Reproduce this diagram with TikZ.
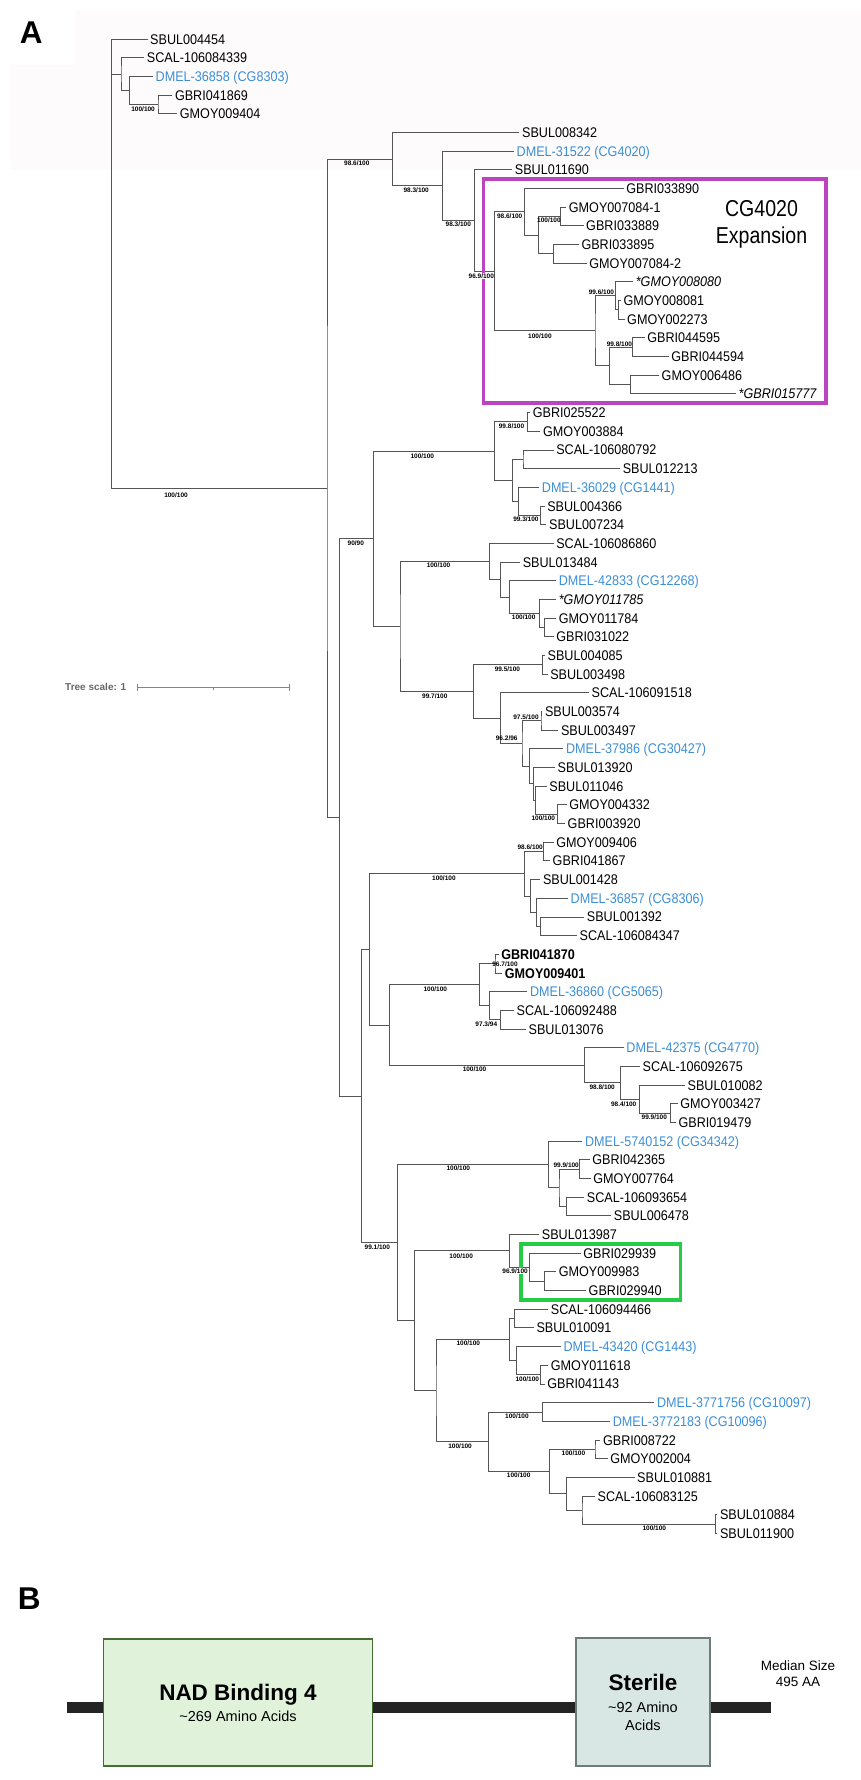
\documentclass[tikz,border=0pt]{standalone}
\usepackage{fontspec}
\setmainfont{Liberation Sans}
\newfontfamily\leaffont[FakeStretch=0.9]{Liberation Sans}
\newfontfamily\narrowfont[FakeStretch=0.85]{Liberation Sans}
\usepackage{tikz}
\definecolor{treeblue}{HTML}{3C8ED5}
\definecolor{treegray}{HTML}{555555}
\definecolor{scalegray}{HTML}{666666}
\definecolor{clademagenta}{HTML}{BD44C0}
\definecolor{cladegreen}{HTML}{25CC45}
\definecolor{nadfill}{HTML}{E0F2DA}
\definecolor{nadedge}{HTML}{466E32}
\definecolor{sterfill}{HTML}{D9E7E4}
\definecolor{steredge}{HTML}{6E7B7A}
\definecolor{barblack}{HTML}{242424}
\definecolor{faintbg}{HTML}{FDFBFB}
\tikzset{
  leaf/.style={anchor=west,inner xsep=2.5pt,inner ysep=0pt,text height=10pt,text depth=0pt,font=\leaffont\fontsize{14}{14}\selectfont,text=black},
  dmel/.style={leaf,text=treeblue},
  leafit/.style={leaf,font=\leaffont\itshape\fontsize{14}{14}\selectfont},
  leafbf/.style={leaf,font=\leaffont\bfseries\fontsize{14}{14}\selectfont},
  branch/.style={draw=treegray,line width=0.9pt},
  support/.style={inner sep=0.3pt,font=\bfseries\fontsize{6.5}{6.5}\selectfont},
  supportbg/.style={support,fill=white},
  cladebox/.style={line width=3.3pt},
  scalebar/.style={draw=scalegray!80,line width=0.9pt},
  panel/.style={anchor=base,inner sep=0pt,font=\bfseries\fontsize{31.5}{31.5}\selectfont},
  domtitle/.style={anchor=base,inner sep=0pt,font=\bfseries\fontsize{22.5}{22.5}\selectfont},
  domsub/.style={anchor=base,inner sep=0pt,font=\fontsize{14.5}{14.5}\selectfont},
  nadbox/.style={draw=nadedge,fill=nadfill,line width=1.2pt,minimum width=269pt,minimum height=127pt,inner sep=0pt},
  sterbox/.style={draw=steredge,fill=sterfill,line width=1.2pt,minimum width=134pt,minimum height=128pt,inner sep=0pt}
}

\begin{document}
\begin{tikzpicture}[x=1pt,y=-1pt]
\useasboundingbox (0,0) rectangle (861,1780);
\fill[faintbg] (75,10) rectangle (861,170);
\fill[faintbg] (10,65) rectangle (75,170);

\begin{scope}[y=-18.68pt,yshift=-20.32pt]
\node[leaf] (sbul004454) at (147.5,1) {SBUL004454};
\node[leaf] (scal84339) at (144.2,2) {SCAL-106084339};
\node[dmel] (dmel36858) at (153,3) {DMEL-36858 (CG8303)};
\node[leaf] (gbri041869) at (172.3,4) {GBRI041869};
\node[leaf] (gmoy009404) at (177.2,5) {GMOY009404};
\node[leaf] (sbul008342) at (519.4,6) {SBUL008342};
\node[dmel] (dmel31522) at (514,7) {DMEL-31522 (CG4020)};
\node[leaf] (sbul011690) at (512.2,8) {SBUL011690};
\node[leaf] (gbri033890) at (623.7,9) {GBRI033890};
\node[leaf] (gmoy7084a) at (566.2,10) {GMOY007084-1};
\node[leaf] (gbri033889) at (583.5,11) {GBRI033889};
\node[leaf] (gbri033895) at (578.8,12) {GBRI033895};
\node[leaf] (gmoy7084b) at (586.7,13) {GMOY007084-2};
\node[leafit] (gmoy008080) at (633.1,14) {*GMOY008080};
\node[leaf] (gmoy008081) at (620.9,15) {GMOY008081};
\node[leaf] (gmoy002273) at (624.5,16) {GMOY002273};
\node[leaf] (gbri044595) at (644.6,17) {GBRI044595};
\node[leaf] (gbri044594) at (668.7,18) {GBRI044594};
\node[leaf] (gmoy006486) at (659,19) {GMOY006486};
\node[leafit] (gbri015777) at (736,20) {*GBRI015777};
\node[leaf] (gbri025522) at (530.2,21) {GBRI025522};
\node[leaf] (gmoy003884) at (540.3,22) {GMOY003884};
\node[leaf] (scal80792) at (553.6,23) {SCAL-106080792};
\node[leaf] (sbul012213) at (620.1,24) {SBUL012213};
\node[dmel] (dmel36029) at (539.2,25) {DMEL-36029 (CG1441)};
\node[leaf] (sbul004366) at (544.6,26) {SBUL004366};
\node[leaf] (sbul007234) at (546.4,27) {SBUL007234};
\node[leaf] (scal86860) at (553.6,28) {SCAL-106086860};
\node[leaf] (sbul013484) at (520.1,29) {SBUL013484};
\node[dmel] (dmel42833) at (556.1,30) {DMEL-42833 (CG12268)};
\node[leafit] (gmoy011785) at (556.1,31) {*GMOY011785};
\node[leaf] (gmoy011784) at (556.1,32) {GMOY011784};
\node[leaf] (gbri031022) at (553.6,33) {GBRI031022};
\node[leaf] (sbul004085) at (544.9,34) {SBUL004085};
\node[leaf] (sbul003498) at (547.6,35) {SBUL003498};
\node[leaf] (scal91518) at (588.9,36) {SCAL-106091518};
\node[leaf] (sbul003574) at (542.3,37) {SBUL003574};
\node[leaf] (sbul003497) at (558.3,38) {SBUL003497};
\node[dmel] (dmel37986) at (563.3,39) {DMEL-37986 (CG30427)};
\node[leaf] (sbul013920) at (555,40) {SBUL013920};
\node[leaf] (sbul011046) at (546.7,41) {SBUL011046};
\node[leaf] (gmoy004332) at (566.7,42) {GMOY004332};
\node[leaf] (gbri003920) at (565,43) {GBRI003920};
\node[leaf] (gmoy009406) at (553.6,44) {GMOY009406};
\node[leaf] (gbri041867) at (550,45) {GBRI041867};
\node[leaf] (sbul001428) at (540.3,46) {SBUL001428};
\node[dmel] (dmel36857) at (568,47) {DMEL-36857 (CG8306)};
\node[leaf] (sbul001392) at (584.2,48) {SBUL001392};
\node[leaf] (scal84347) at (577,49) {SCAL-106084347};
\node[leafbf] (gbri041870) at (498.6,50) {GBRI041870};
\node[leafbf] (gmoy009401) at (502.2,51) {GMOY009401};
\node[dmel] (dmel36860) at (527.3,52) {DMEL-36860 (CG5065)};
\node[leaf] (scal92488) at (514,53) {SCAL-106092488};
\node[leaf] (sbul013076) at (525.9,54) {SBUL013076};
\node[dmel] (dmel42375) at (623.7,55) {DMEL-42375 (CG4770)};
\node[leaf] (scal92675) at (639.9,56) {SCAL-106092675};
\node[leaf] (sbul010082) at (684.9,57) {SBUL010082};
\node[leaf] (gmoy003427) at (677.7,58) {GMOY003427};
\node[leaf] (gbri019479) at (675.9,59) {GBRI019479};
\node[dmel] (dmel5740152) at (582.4,60) {DMEL-5740152 (CG34342)};
\node[leaf] (gbri042365) at (589.6,61) {GBRI042365};
\node[leaf] (gmoy007764) at (590.6,62) {GMOY007764};
\node[leaf] (scal93654) at (584.2,63) {SCAL-106093654};
\node[leaf] (sbul006478) at (611.2,64) {SBUL006478};
\node[leaf] (sbul013987) at (539.2,65) {SBUL013987};
\node[leaf] (gbri029939) at (580.6,66) {GBRI029939};
\node[leaf] (gmoy009983) at (556.1,67) {GMOY009983};
\node[leaf] (gbri029940) at (586,68) {GBRI029940};
\node[leaf] (scal94466) at (548.2,69) {SCAL-106094466};
\node[leaf] (sbul010091) at (533.8,70) {SBUL010091};
\node[dmel] (dmel43420) at (560.8,71) {DMEL-43420 (CG1443)};
\node[leaf] (gmoy011618) at (548.2,72) {GMOY011618};
\node[leaf] (gbri041143) at (544.6,73) {GBRI041143};
\node[dmel] (dmel3771756) at (654.3,74) {DMEL-3771756 (CG10097)};
\node[dmel] (dmel3772183) at (610.1,75) {DMEL-3772183 (CG10096)};
\node[leaf] (gbri008722) at (600.4,76) {GBRI008722};
\node[leaf] (gmoy002004) at (607.6,77) {GMOY002004};
\node[leaf] (sbul010881) at (634.5,78) {SBUL010881};
\node[leaf] (scal83125) at (595,79) {SCAL-106083125};
\node[leaf] (sbul010884) at (717.3,80) {SBUL010884};
\node[leaf] (sbul011900) at (717.3,81) {SBUL011900};

\coordinate (nA3) at (158,4.5);
\coordinate (nA2) at (129.9,3.75);
\coordinate (nA1) at (121,2.875);
\coordinate (nK) at (560.4,10.5);
\coordinate (nL) at (553.6,12.5);
\coordinate (nJ) at (538.5,11.5);
\coordinate (nI) at (524.8,10.25);
\coordinate (nO) at (618.7,15.5);
\coordinate (nN) at (615.1,14.75);
\coordinate (nQ) at (632.7,17.5);
\coordinate (nR) at (630.9,19.5);
\coordinate (nP) at (609.4,18.5);
\coordinate (nM) at (595,16.625);
\coordinate (nH) at (494.2,13.438);
\coordinate (nG) at (474.8,10.719);
\coordinate (nF) at (442.4,8.859);
\coordinate (nD) at (392.1,7.430);
\coordinate (nU) at (527.3,21.5);
\coordinate (nW) at (523,23.5);
\coordinate (nY) at (540.3,26.5);
\coordinate (nX) at (518.7,25.75);
\coordinate (nV) at (512.2,24.625);
\coordinate (nT) at (494.2,23.063);
\coordinate (nAE) at (544.6,32.5);
\coordinate (nAD) at (539.9,31.75);
\coordinate (nAC) at (509.4,30.875);
\coordinate (nAB) at (500.4,29.938);
\coordinate (nAA) at (489.6,28.969);
\coordinate (nAG) at (542.1,34.5);
\coordinate (nAJ) at (541,37.5);
\coordinate (nAN) at (557.3,42.5);
\coordinate (nAM) at (535.5,41.75);
\coordinate (nAL) at (533.3,40.875);
\coordinate (nAK) at (529.3,39.938);
\coordinate (nAI) at (522,38.719);
\coordinate (nAH) at (500.8,37.359);
\coordinate (nAF) at (473.3,35.930);
\coordinate (nZ) at (400,32.449);
\coordinate (nS) at (373.7,27.756);
\coordinate (nAR) at (543.9,44.5);
\coordinate (nAU) at (540.3,48.5);
\coordinate (nAT) at (536.7,47.75);
\coordinate (nAS) at (530.6,46.875);
\coordinate (nAQ) at (524.8,45.688);
\coordinate (nAX) at (495,50.5);
\coordinate (nAZ) at (500.4,53.5);
\coordinate (nAY) at (489.6,52.75);
\coordinate (nAW) at (479.9,51.625);
\coordinate (nBD) at (670.5,58.5);
\coordinate (nBC) at (639.9,57.75);
\coordinate (nBB) at (620.1,56.875);
\coordinate (nBA) at (584.2,55.938);
\coordinate (nAV) at (389.9,53.781);
\coordinate (nAO) at (369.4,49.734);
\coordinate (nBH) at (579.9,61.5);
\coordinate (nBI) at (566.9,63.5);
\coordinate (nBG) at (559,62.5);
\coordinate (nBF) at (548.2,61.25);
\coordinate (nBM) at (544.6,67.5);
\coordinate (nBL) at (529.1,66.75);
\coordinate (nBJ) at (509.7,65.875);
\coordinate (nBP) at (514.7,69.5);
\coordinate (nBR) at (540.3,72.5);
\coordinate (nBQ) at (516.5,71.75);
\coordinate (nBO) at (509.4,70.625);
\coordinate (nBT) at (542.8,74.5);
\coordinate (nBV) at (595,76.5);
\coordinate (nBY) at (715.5,80.5);
\coordinate (nBX) at (582,79.75);
\coordinate (nBW) at (566.9,78.875);
\coordinate (nBU) at (549.3,77.688);
\coordinate (nBS) at (488.1,76.094);
\coordinate (nBN) at (436,73.359);
\coordinate (nBK) at (414.4,69.617);
\coordinate (nBE) at (397.1,65.434);
\coordinate (nAP) at (361.2,57.584);
\coordinate (nE) at (339.6,42.670);
\coordinate (nB) at (327,25.050);
\coordinate (root) at (111.7,13.025);

\draw[branch] (sbul004454) -| (root) |- (nB);
\draw[branch] (root) |- (nA1);
\draw[branch] (scal84339) -| (nA1) |- (nA2);
\draw[branch] (dmel36858) -| (nA2) |- (nA3);
\draw[branch] (gbri041869) -| (nA3) |- (gmoy009404);
\draw[branch] (nD) -| (nB) |- (nE);
\draw[branch] (sbul008342) -| (nD) |- (nF);
\draw[branch] (dmel31522) -| (nF) |- (nG);
\draw[branch] (sbul011690) -| (nG) |- (nH);
\draw[branch] (nI) -| (nH) |- (nM);
\draw[branch] (gbri033890) -| (nI) |- (nJ);
\draw[branch] (nK) -| (nJ) |- (nL);
\draw[branch] (gmoy7084a) -| (nK) |- (gbri033889);
\draw[branch] (gbri033895) -| (nL) |- (gmoy7084b);
\draw[branch] (nN) -| (nM) |- (nP);
\draw[branch] (gmoy008080) -| (nN) |- (nO);
\draw[branch] (gmoy008081) -| (nO) |- (gmoy002273);
\draw[branch] (nQ) -| (nP) |- (nR);
\draw[branch] (gbri044595) -| (nQ) |- (gbri044594);
\draw[branch] (gmoy006486) -| (nR) |- (gbri015777);
\draw[branch] (nS) -| (nE) |- (nAP);
\draw[branch] (nT) -| (nS) |- (nZ);
\draw[branch] (nU) -| (nT) |- (nV);
\draw[branch] (gbri025522) -| (nU) |- (gmoy003884);
\draw[branch] (nW) -| (nV) |- (nX);
\draw[branch] (scal80792) -| (nW) |- (sbul012213);
\draw[branch] (dmel36029) -| (nX) |- (nY);
\draw[branch] (sbul004366) -| (nY) |- (sbul007234);
\draw[branch] (nAA) -| (nZ) |- (nAF);
\draw[branch] (scal86860) -| (nAA) |- (nAB);
\draw[branch] (sbul013484) -| (nAB) |- (nAC);
\draw[branch] (dmel42833) -| (nAC) |- (nAD);
\draw[branch] (gmoy011785) -| (nAD) |- (nAE);
\draw[branch] (gmoy011784) -| (nAE) |- (gbri031022);
\draw[branch] (nAG) -| (nAF) |- (nAH);
\draw[branch] (sbul004085) -| (nAG) |- (sbul003498);
\draw[branch] (scal91518) -| (nAH) |- (nAI);
\draw[branch] (nAJ) -| (nAI) |- (nAK);
\draw[branch] (sbul003574) -| (nAJ) |- (sbul003497);
\draw[branch] (dmel37986) -| (nAK) |- (nAL);
\draw[branch] (sbul013920) -| (nAL) |- (nAM);
\draw[branch] (sbul011046) -| (nAM) |- (nAN);
\draw[branch] (gmoy004332) -| (nAN) |- (gbri003920);
\draw[branch] (nAO) -| (nAP) |- (nBE);
\draw[branch] (nAQ) -| (nAO) |- (nAV);
\draw[branch] (nAR) -| (nAQ) |- (nAS);
\draw[branch] (gmoy009406) -| (nAR) |- (gbri041867);
\draw[branch] (sbul001428) -| (nAS) |- (nAT);
\draw[branch] (dmel36857) -| (nAT) |- (nAU);
\draw[branch] (sbul001392) -| (nAU) |- (scal84347);
\draw[branch] (nAW) -| (nAV) |- (nBA);
\draw[branch] (nAX) -| (nAW) |- (nAY);
\draw[branch] (gbri041870) -| (nAX) |- (gmoy009401);
\draw[branch] (dmel36860) -| (nAY) |- (nAZ);
\draw[branch] (scal92488) -| (nAZ) |- (sbul013076);
\draw[branch] (dmel42375) -| (nBA) |- (nBB);
\draw[branch] (scal92675) -| (nBB) |- (nBC);
\draw[branch] (sbul010082) -| (nBC) |- (nBD);
\draw[branch] (gmoy003427) -| (nBD) |- (gbri019479);
\draw[branch] (nBF) -| (nBE) |- (nBK);
\draw[branch] (dmel5740152) -| (nBF) |- (nBG);
\draw[branch] (nBH) -| (nBG) |- (nBI);
\draw[branch] (gbri042365) -| (nBH) |- (gmoy007764);
\draw[branch] (scal93654) -| (nBI) |- (sbul006478);
\draw[branch] (nBJ) -| (nBK) |- (nBN);
\draw[branch] (sbul013987) -| (nBJ) |- (nBL);
\draw[branch] (gbri029939) -| (nBL) |- (nBM);
\draw[branch] (gmoy009983) -| (nBM) |- (gbri029940);
\draw[branch] (nBO) -| (nBN) |- (nBS);
\draw[branch] (nBP) -| (nBO) |- (nBQ);
\draw[branch] (scal94466) -| (nBP) |- (sbul010091);
\draw[branch] (dmel43420) -| (nBQ) |- (nBR);
\draw[branch] (gmoy011618) -| (nBR) |- (gbri041143);
\draw[branch] (nBT) -| (nBS) |- (nBU);
\draw[branch] (dmel3771756) -| (nBT) |- (dmel3772183);
\draw[branch] (nBV) -| (nBU) |- (nBW);
\draw[branch] (gbri008722) -| (nBV) |- (gmoy002004);
\draw[branch] (sbul010881) -| (nBW) |- (nBX);
\draw[branch] (scal83125) -| (nBX) |- (nBY);
\draw[branch] (sbul010884) -| (nBY) |- (sbul011900);
\end{scope}

\draw[cladebox,draw=clademagenta] (483.5,179) rectangle (825.9,403);
\draw[cladebox,draw=cladegreen] (520.9,1244) rectangle (680.6,1300);
\node[anchor=base,inner sep=0pt,font=\narrowfont\fontsize{23}{23}\selectfont] (cgname) at (761.5,216) {CG4020};
\node[anchor=base,inner sep=0pt,font=\narrowfont\fontsize{23}{23}\selectfont] (cgexp) at (761.5,243.3) {Expansion};

\node[support] (bsA3) at (143.1,109) {100/100};
\node[support] (bsB) at (176,495) {100/100};
\node[support] (bsD) at (356.8,163) {98.6/100};
\node[support] (bsF) at (416.2,190) {98.3/100};
\node[support] (bsG) at (458.3,224) {98.3/100};
\node[supportbg] (bsH) at (481.3,276) {96.9/100};
\node[support] (bsI) at (509.7,216) {98.6/100};
\node[support] (bsK) at (548.9,220) {100/100};
\node[support] (bsM) at (539.9,336) {100/100};
\node[support] (bsN) at (601.4,292) {99.6/100};
\node[support] (bsQ) at (619.4,344) {99.8/100};
\node[support] (bsS) at (355.8,543) {90/90};
\node[support] (bsT) at (422.3,456) {100/100};
\node[support] (bsU) at (511.5,426) {99.8/100};
\node[support] (bsY) at (525.9,519) {99.3/100};
\node[support] (bsAA) at (438.5,565) {100/100};
\node[support] (bsAD) at (523.7,617) {100/100};
\node[support] (bsAF) at (434.8,696) {99.7/100};
\node[support] (bsAG) at (507.4,669) {99.5/100};
\node[support] (bsAI) at (506.7,738.7) {96.2/96};
\node[support] (bsAJ) at (526,717.3) {97.5/100};
\node[support] (bsAN) at (543.3,818.3) {100/100};
\node[support] (bsAQ) at (443.9,878) {100/100};
\node[support] (bsAR) at (530.2,847) {98.6/100};
\node[support] (bsAW) at (435.3,989) {100/100};
\node[support] (bsAX) at (505,964) {96.7/100};
\node[support] (bsAZ) at (486.3,1024) {97.3/94};
\node[support] (bsBA) at (474.5,1069) {100/100};
\node[support] (bsBB) at (602.2,1087) {98.8/100};
\node[support] (bsBC) at (623.7,1104) {98.4/100};
\node[support] (bsBD) at (654.3,1117) {99.9/100};
\node[support] (bsBE) at (377.3,1247) {99.1/100};
\node[support] (bsBF) at (458.3,1168) {100/100};
\node[support] (bsBH) at (566.2,1165) {99.9/100};
\node[support] (bsBJ) at (461.2,1256) {100/100};
\node[supportbg] (bsBL) at (515.1,1271) {96.9/100};
\node[support] (bsBO) at (468.3,1343) {100/100};
\node[support] (bsBR) at (527.3,1379) {100/100};
\node[support] (bsBS) at (460.1,1445.7) {100/100};
\node[support] (bsBT) at (516.9,1415.7) {100/100};
\node[support] (bsBU) at (518.7,1475) {100/100};
\node[support] (bsBV) at (573.4,1453) {100/100};
\node[support] (bsBY) at (654.3,1528) {100/100};

\node[anchor=base west,inner sep=0pt,text=scalegray,font=\bfseries\fontsize{10}{10}\selectfont] (scaletext) at (65,690.7) {Tree scale: 1};
\coordinate (sb0) at (137.7,687.3);
\coordinate (sbm) at (213.5,687.3);
\coordinate (sb1) at (289.3,687.3);
\draw[scalebar] (sb0) -- (sb1);
\draw[scalebar] ([yshift=3.5pt]sb0) -- ([yshift=-3.5pt]sb0);
\draw[scalebar] ([yshift=3.5pt]sb1) -- ([yshift=-3.5pt]sb1);
\draw[scalebar] (sbm) -- ([yshift=-2.5pt]sbm);

\node[panel] (panelA) at (31.3,43.3) {A};
\node[panel] (panelB) at (29.3,1609.3) {B};

\fill[barblack] (67.1,1701.7) rectangle (770.5,1713.3);
\node[nadbox] (nad) at (238,1702.5) {};
\node[sterbox] (sterile) at (642.9,1702) {};
\node[domtitle] (nadname) at (238,1700) {NAD Binding 4};
\node[domsub] (nadlen) at (238,1721.7) {\textasciitilde 269 Amino Acids};
\node[domtitle] (stername) at (642.9,1690.7) {Sterile};
\node[domsub] (sterlen) at (642.9,1712.7) {\textasciitilde 92 Amino};
\node[domsub] (sterlen2) at (642.9,1730) {Acids};
\node[anchor=base,inner sep=0pt,font=\fontsize{13.5}{13.5}\selectfont] (median) at (798,1670) {Median Size};
\node[anchor=base,inner sep=0pt,font=\fontsize{13.5}{13.5}\selectfont] (mediansize) at (798,1686.7) {495 AA};
\end{tikzpicture}
\end{document}
